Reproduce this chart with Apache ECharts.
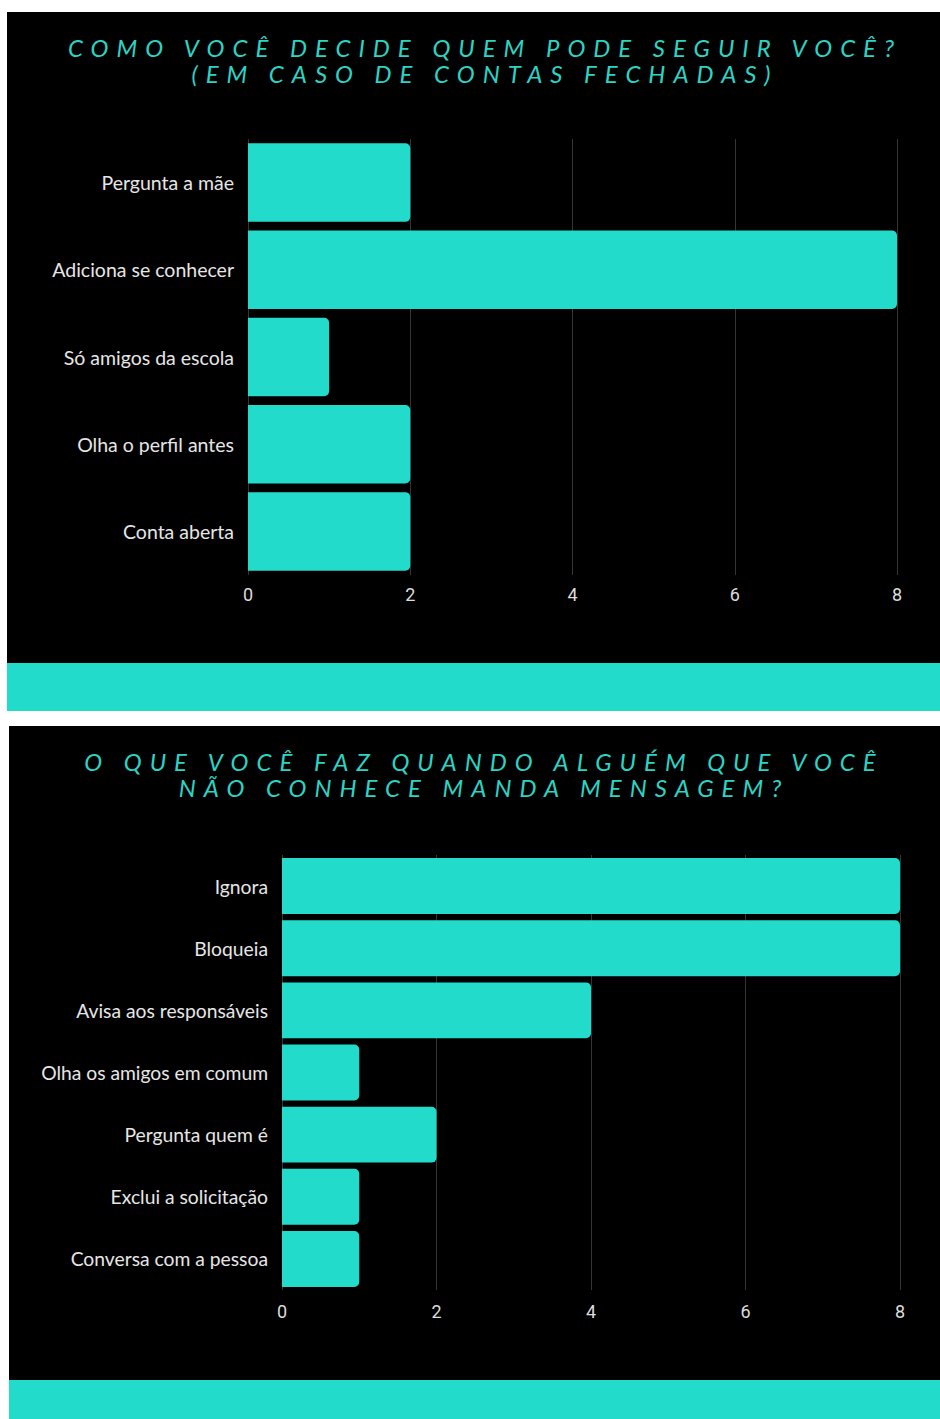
<!DOCTYPE html>
<html>
<head>
<meta charset="utf-8">
<script src="https://cdn.jsdelivr.net/npm/echarts@6/dist/echarts.min.js"></script>
<style>
  html, body { margin: 0; padding: 0; background: #ffffff; }
  #chart { width: 940px; height: 1419px; }
  #chart text[fill="#2ad5c5"] { letter-spacing: 8px; }
</style>
</head>
<body>
<div id="chart"></div>
<script>
// ---- data ----
const title1 = 'COMO VOCÊ DECIDE QUEM PODE SEGUIR VOCÊ?\n(EM CASO DE CONTAS FECHADAS)';
const categories1 = ['Pergunta a mãe', 'Adiciona se conhecer', 'Só amigos da escola', 'Olha o perfil antes', 'Conta aberta'];
const values1 = [2, 8, 1, 2, 2];

const title2 = 'O QUE VOCÊ FAZ QUANDO ALGUÉM QUE VOCÊ\nNÃO CONHECE MANDA MENSAGEM?';
const categories2 = ['Ignora', 'Bloqueia', 'Avisa aos responsáveis', 'Olha os amigos em comum', 'Pergunta quem é', 'Exclui a solicitação', 'Conversa com a pessoa'];
const values2 = [8, 8, 4, 1, 2, 1, 1];

const xTicks = [0, 2, 4, 6, 8];

// ---- styles ----
const TEAL = '#22dbca';
const TITLE_COLOR = '#2ad5c5';
const LABEL_COLOR = '#e6e6e6';

const chart = echarts.init(document.getElementById('chart'), null, { renderer: 'svg' });

function titleOpt(text, left, top) {
  return {
    text: text,
    left: left,
    top: top,
    textAlign: 'center',
    padding: 0,
    textStyle: {
      color: TITLE_COLOR,
      fontFamily: 'Lato',
      fontStyle: 'italic',
      fontWeight: 'normal',
      fontSize: 24,
      lineHeight: 26.5
    }
  };
}

function xAxisOpt(gridIndex, margin) {
  return {
    gridIndex: gridIndex,
    type: 'value',
    min: 0,
    max: 8,
    interval: 2,
    axisLine: { show: false },
    axisTick: { show: false },
    axisLabel: {
      color: '#dddddd',
      fontFamily: 'Roboto',
      fontSize: 18,
      margin: margin,
      formatter: function (v) { return xTicks.indexOf(v) >= 0 ? String(v) : ''; }
    },
    splitLine: { show: true, lineStyle: { color: '#353535', width: 1 } }
  };
}

function yAxisOpt(gridIndex, cats, size) {
  return {
    gridIndex: gridIndex,
    type: 'category',
    data: cats,
    inverse: true,
    axisLine: { show: false },
    axisTick: { show: false },
    axisLabel: {
      color: LABEL_COLOR,
      fontFamily: 'Lato',
      fontSize: size,
      margin: 14
    }
  };
}

chart.setOption({
  animation: false,
  backgroundColor: '#ffffff',
  graphic: [
    { type: 'rect', z: -100, shape: { x: 7, y: 12, width: 933, height: 651 }, style: { fill: '#000000' } },
    { type: 'rect', z: -100, shape: { x: 7, y: 663, width: 933, height: 48 }, style: { fill: TEAL } },
    { type: 'rect', z: -100, shape: { x: 9, y: 726, width: 931, height: 654 }, style: { fill: '#000000' } },
    { type: 'rect', z: -100, shape: { x: 9, y: 1380, width: 931, height: 39 }, style: { fill: TEAL } }
  ],
  title: [titleOpt(title1, 485, 34), titleOpt(title2, 484, 748)],
  grid: [
    { left: 248, right: 43, top: 139, height: 436, containLabel: false },
    { left: 282, right: 40, top: 855, height: 435, containLabel: false }
  ],
  xAxis: [xAxisOpt(0, 10), xAxisOpt(1, 12)],
  yAxis: [yAxisOpt(0, categories1, 19.5), yAxisOpt(1, categories2, 19.3)],
  series: [
    {
      type: 'bar', xAxisIndex: 0, yAxisIndex: 0, data: values1,
      barCategoryGap: '10%',
      itemStyle: { color: TEAL, borderRadius: [0, 5, 5, 0] }
    },
    {
      type: 'bar', xAxisIndex: 1, yAxisIndex: 1, data: values2,
      barCategoryGap: '10%',
      itemStyle: { color: TEAL, borderRadius: [0, 5, 5, 0] }
    }
  ]
});

function spaceTitles() {
  document.querySelectorAll('#chart text').forEach(function (t) {
    const f = (t.getAttribute('fill') || '').toLowerCase();
    if (f === TITLE_COLOR) t.style.letterSpacing = '8px';
  });
}
spaceTitles();
chart.on('finished', spaceTitles);
</script>
</body>
</html>
